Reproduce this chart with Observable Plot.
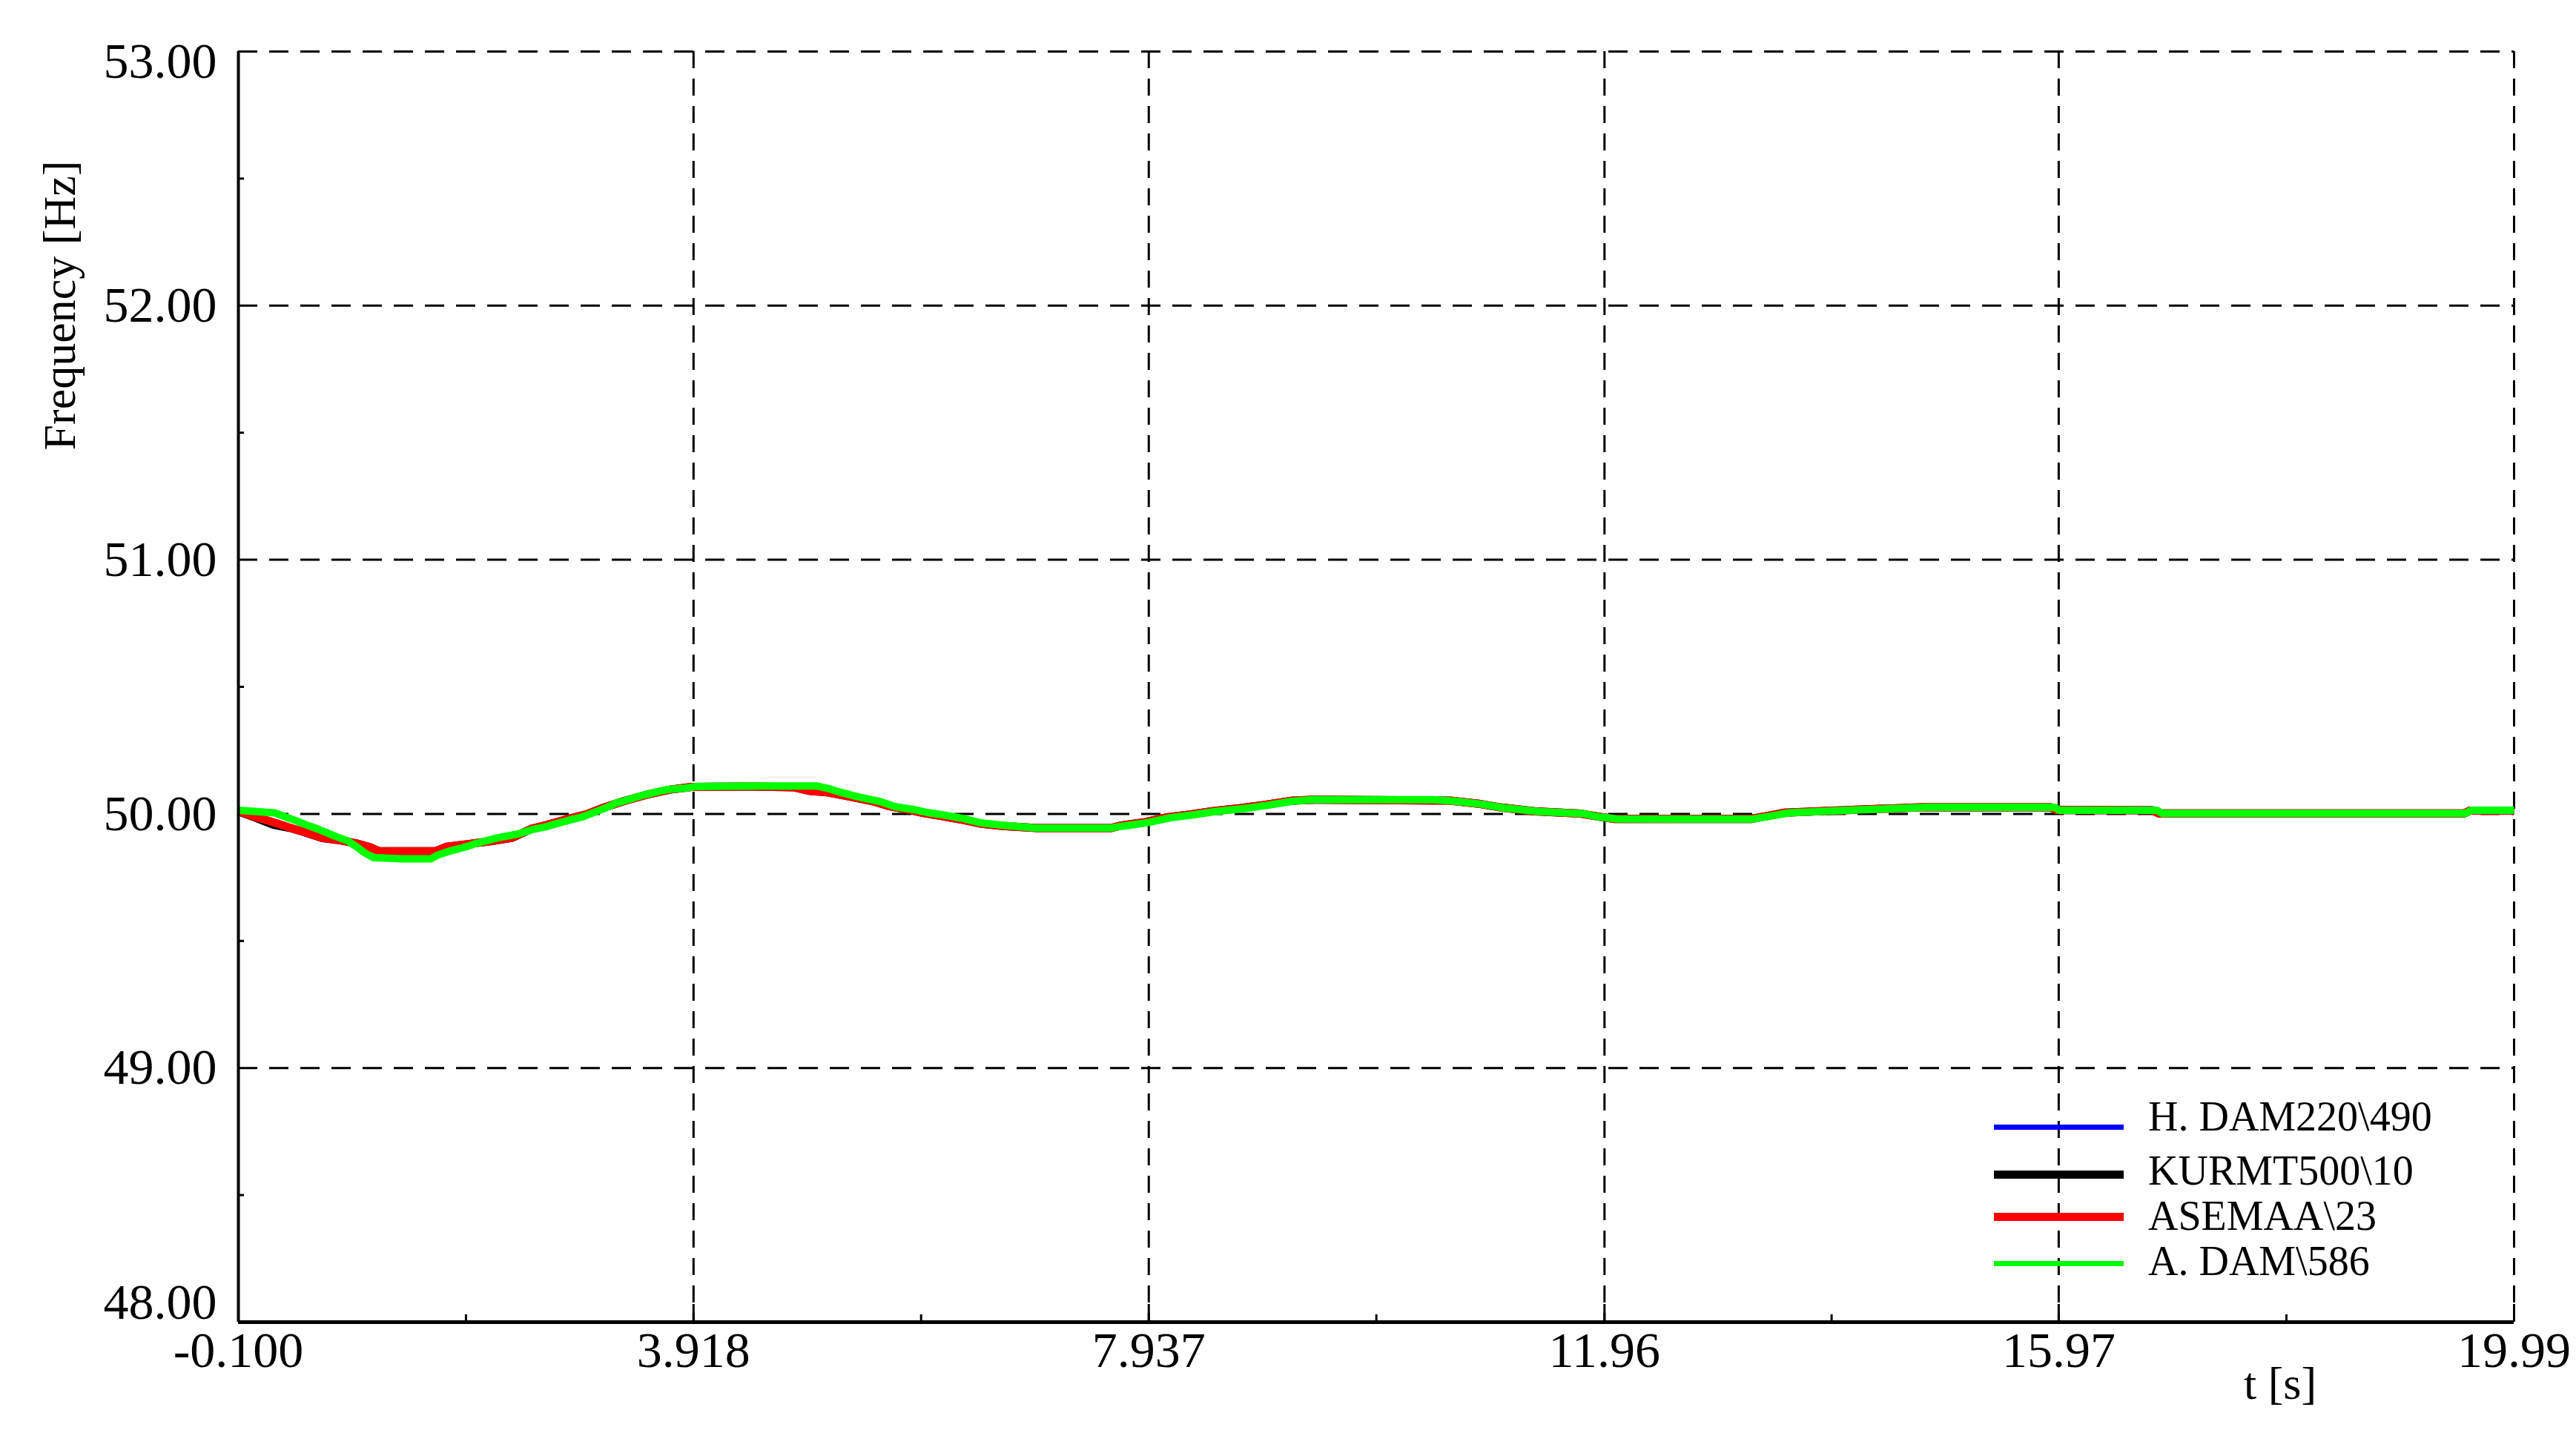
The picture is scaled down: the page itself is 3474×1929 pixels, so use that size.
<!DOCTYPE html>
<html><head><meta charset="utf-8">
<script src="https://cdn.jsdelivr.net/npm/d3@7"></script>
<script src="https://cdn.jsdelivr.net/npm/@observablehq/plot@0.6"></script>
<style>
html,body{margin:0;padding:0;background:#fff;}
#wrap{position:relative;width:3474px;height:1929px;font-family:"Liberation Serif","Times New Roman",serif;}
.lgline{position:absolute;}
.lgtext{position:absolute;font-size:56px;line-height:56px;white-space:pre;color:#000;}
.atitle{position:absolute;white-space:pre;color:#000;line-height:1;}
</style></head><body><div id="wrap"></div>
<script>
// ---- data ----
const xTicks = [-0.1, 3.918, 7.937, 11.96, 15.97, 19.99];
const xTickLabels = ["-0.100", "3.918", "7.937", "11.96", "15.97", "19.99"];
const xMinorTicks = [1.909, 5.927, 9.946, 13.965, 17.98];
const yTicks = [48, 49, 50, 51, 52, 53];
const yTickLabels = ["48.00", "49.00", "50.00", "51.00", "52.00", "53.00"];
const yMinorTicks = [48.5, 49.5, 50.5, 51.5, 52.5];
const seriesNames = ["H. DAM220\\490", "KURMT500\\10", "ASEMAA\\23", "A. DAM\\586"];
const seriesColors = ["#0000ff", "#000000", "#ff0000", "#00ff00"];
const xTitle = "t [s]";
const yTitle = "Frequency [Hz]";

// [time s, frequency Hz]
const hDam = [[-0.1,50.012],[0.04,49.990],[0.14,49.978],[0.24,49.964],[0.36,49.946],[0.49,49.929],[0.64,49.907],[0.81,49.896],[0.94,49.885],[1.06,49.870],[1.14,49.855],[1.40,49.854],[1.64,49.854],[1.74,49.871],[1.94,49.882],[2.14,49.893],[2.32,49.906],[2.49,49.941],[2.62,49.955],[2.79,49.977],[2.97,49.998],[3.12,50.023],[3.30,50.049],[3.50,50.074],[3.70,50.094],[3.90,50.105],[4.40,50.108],[4.80,50.105],[4.95,50.091],[5.10,50.085],[5.30,50.068],[5.50,50.050],[5.65,50.030],[5.80,50.018],[5.95,50.003],[6.10,49.992],[6.30,49.976],[6.45,49.962],[6.65,49.952],[6.95,49.944],[7.60,49.944],[7.70,49.955],[7.90,49.967],[8.10,49.987],[8.30,49.998],[8.50,50.011],[8.75,50.023],[8.95,50.035],[9.20,50.052],[9.40,50.056],[10.60,50.052],[10.85,50.040],[11.05,50.025],[11.35,50.010],[11.75,50.001],[11.90,49.990],[12.05,49.980],[13.25,49.980],[13.40,49.992],[13.55,50.005],[14.10,50.015],[14.75,50.026],[15.90,50.026],[15.95,50.015],[16.80,50.014],[16.85,50.002],[19.55,50.002],[19.60,50.013],[19.99,50.013]];
const kurmt = [[-0.1,50.010],[0.07,49.982],[0.21,49.957],[0.36,49.944],[0.49,49.927],[0.64,49.905],[0.81,49.895],[0.94,49.884],[1.06,49.869],[1.14,49.854],[1.40,49.853],[1.64,49.853],[1.74,49.871],[1.94,49.882],[2.14,49.893],[2.32,49.906],[2.49,49.942],[2.62,49.956],[2.79,49.978],[2.97,49.998],[3.12,50.024],[3.30,50.050],[3.50,50.075],[3.70,50.095],[3.90,50.106],[4.40,50.108],[4.80,50.105],[4.95,50.090],[5.10,50.085],[5.30,50.068],[5.50,50.050],[5.65,50.030],[5.80,50.018],[5.95,50.003],[6.10,49.992],[6.30,49.976],[6.45,49.962],[6.65,49.952],[6.95,49.944],[7.60,49.944],[7.70,49.955],[7.90,49.967],[8.10,49.987],[8.30,49.998],[8.50,50.011],[8.75,50.023],[8.95,50.035],[9.20,50.052],[9.40,50.056],[10.60,50.052],[10.85,50.040],[11.05,50.025],[11.35,50.010],[11.75,50.001],[11.90,49.990],[12.05,49.980],[13.25,49.980],[13.40,49.992],[13.55,50.005],[14.10,50.015],[14.75,50.026],[15.90,50.026],[15.95,50.015],[16.80,50.014],[16.85,50.002],[19.55,50.002],[19.60,50.013],[19.99,50.013]];
const asemaa = [[-0.1,50.012],[0.036,49.989],[0.136,49.977],[0.236,49.963],[0.361,49.945],[0.487,49.928],[0.637,49.906],[0.812,49.895],[0.937,49.884],[1.063,49.869],[1.138,49.854],[1.40,49.853],[1.638,49.853],[1.738,49.871],[1.939,49.882],[2.139,49.893],[2.315,49.906],[2.49,49.942],[2.615,49.956],[2.79,49.978],[2.97,49.998],[3.12,50.024],[3.30,50.050],[3.50,50.075],[3.70,50.095],[3.90,50.106],[4.40,50.108],[4.80,50.105],[4.95,50.090],[5.10,50.085],[5.30,50.068],[5.50,50.050],[5.65,50.030],[5.80,50.018],[5.95,50.003],[6.10,49.992],[6.30,49.976],[6.45,49.962],[6.65,49.952],[6.95,49.944],[7.60,49.944],[7.70,49.955],[7.90,49.967],[8.10,49.987],[8.30,49.998],[8.50,50.011],[8.75,50.023],[8.95,50.035],[9.20,50.052],[9.40,50.056],[10.60,50.052],[10.85,50.040],[11.05,50.025],[11.35,50.010],[11.75,50.001],[11.90,49.990],[12.05,49.980],[13.25,49.980],[13.40,49.992],[13.55,50.005],[14.10,50.015],[14.75,50.026],[15.90,50.026],[15.95,50.015],[16.80,50.014],[16.85,50.002],[19.55,50.002],[19.60,50.013],[19.99,50.013]];
const aDam = [[-0.1,50.014],[0.22,50.004],[0.31,49.989],[0.41,49.973],[0.51,49.955],[0.61,49.939],[0.69,49.924],[0.76,49.911],[0.86,49.895],[0.94,49.872],[1.01,49.848],[1.09,49.828],[1.34,49.823],[1.60,49.823],[1.66,49.838],[1.76,49.853],[1.89,49.868],[2.01,49.885],[2.19,49.906],[2.37,49.921],[2.49,49.938],[2.62,49.950],[2.72,49.963],[2.82,49.975],[2.92,49.986],[3.00,49.999],[3.07,50.011],[3.14,50.023],[3.24,50.043],[3.32,50.053],[3.44,50.070],[3.57,50.084],[3.69,50.096],[3.84,50.101],[3.94,50.108],[4.44,50.110],[5.00,50.110],[5.10,50.101],[5.20,50.087],[5.37,50.067],[5.57,50.048],[5.70,50.028],[5.85,50.018],[6.00,50.004],[6.15,49.994],[6.30,49.982],[6.45,49.965],[6.65,49.955],[6.95,49.944],[7.59,49.944],[7.73,49.953],[7.92,49.965],[8.13,49.985],[8.33,49.996],[8.52,50.009],[8.78,50.021],[8.97,50.033],[9.21,50.050],[9.39,50.056],[10.45,50.056],[10.64,50.050],[10.88,50.038],[11.08,50.023],[11.38,50.009],[11.77,50.001],[11.90,49.989],[12.07,49.980],[13.26,49.979],[13.41,49.990],[13.59,50.004],[14.11,50.014],[14.80,50.026],[15.94,50.026],[15.97,50.014],[16.84,50.014],[16.88,50.002],[19.56,50.002],[19.61,50.014],[19.99,50.014]];
const seriesData = [hDam, kurmt, asemaa, aDam];

// ---- layout / style ----
const W = 3474, H = 1929, mL = 321, mR = 84, mT = 69, mB = 146;
const innerW = W - mL - mR, innerH = H - mT - mB;
const font = "Liberation Serif";
const lineWidths = [8, 11, 11, 10];

const lineMarks = seriesData.map((s, i) =>
  Plot.line(s, {x: d => d[0], y: d => d[1], stroke: seriesColors[i], strokeWidth: lineWidths[i], strokeLinejoin: "miter", strokeLinecap: "butt"})
);

const yMid = yTicks.slice(1, -1), yMidLabels = yTickLabels.slice(1, -1);

const chart = Plot.plot({
  width: W, height: H,
  marginLeft: mL, marginRight: mR, marginTop: mT, marginBottom: mB,
  x: {domain: [-0.1, 19.99], axis: null},
  y: {domain: [48, 53], axis: null},
  style: {fontFamily: font, background: "white", overflow: "visible", color: "#000"},
  marks: [
    Plot.ruleY(yTicks.slice(1), {stroke: "#000", strokeWidth: 3, strokeDasharray: "26,16"}),
    Plot.ruleX(xTicks.slice(1), {stroke: "#000", strokeWidth: 3, strokeDasharray: "23,14"}),
    Plot.ruleX(xMinorTicks, {stroke: "#000", strokeWidth: 3, insetTop: innerH - 10}),
    Plot.ruleX(xTicks.slice(1), {stroke: "#000", strokeWidth: 3, insetTop: innerH - 24}),
    Plot.ruleY(yMinorTicks, {stroke: "#000", strokeWidth: 3, insetRight: innerW - 8}),
    ...lineMarks,
    Plot.ruleX([xTicks[0]], {stroke: "#000", strokeWidth: 4}),
    Plot.ruleY([yTicks[0]], {stroke: "#000", strokeWidth: 5}),
    Plot.text(xTicks, {x: d => d, text: (d, i) => xTickLabels[i], frameAnchor: "bottom", dy: 60, fontSize: 68, fontFamily: font, fill: "#000"}),
    Plot.text(yMid, {y: d => d, text: (d, i) => yMidLabels[i], frameAnchor: "left", textAnchor: "end", dx: -29, fontSize: 68, fontFamily: font, fill: "#000"}),
    Plot.text([yTicks[5]], {y: d => d, text: [yTickLabels[5]], frameAnchor: "left", textAnchor: "end", dx: -29, dy: 14, fontSize: 68, fontFamily: font, fill: "#000"}),
    Plot.text([yTicks[0]], {y: d => d, text: [yTickLabels[0]], frameAnchor: "left", textAnchor: "end", dx: -29, dy: -26, fontSize: 68, fontFamily: font, fill: "#000"})
  ]
});

const wrap = document.getElementById("wrap");
wrap.appendChild(chart);

// ---- axis titles ----
const yt = document.createElement("div");
yt.className = "atitle";
yt.style.fontSize = "62px";
yt.textContent = yTitle;
wrap.appendChild(yt);
const ytw = yt.getBoundingClientRect().width;
yt.style.left = (80 - ytw / 2) + "px";
yt.style.top = (412 - 31) + "px";
yt.style.transformOrigin = "50% 50%";
yt.style.transform = "rotate(-90deg)";

const xt = document.createElement("div");
xt.className = "atitle";
xt.style.fontSize = "62px";
xt.textContent = xTitle;
wrap.appendChild(xt);
const xtw = xt.getBoundingClientRect().width;
xt.style.left = (3075 - xtw / 2) + "px";
xt.style.top = (1866 - 31) + "px";

// ---- legend (inside plot area) ----
const lgLineY = [1520, 1584, 1641, 1704];
const lgLineH = [7, 11, 11, 7];
const lgTextY = [1506, 1579, 1640, 1701];
seriesNames.forEach((name, i) => {
  const ln = document.createElement("div");
  ln.className = "lgline";
  ln.style.left = "2689px";
  ln.style.width = "175px";
  ln.style.top = (lgLineY[i] - lgLineH[i] / 2) + "px";
  ln.style.height = lgLineH[i] + "px";
  ln.style.background = seriesColors[i];
  wrap.appendChild(ln);
  const tx = document.createElement("div");
  tx.className = "lgtext";
  tx.style.left = "2897px";
  tx.style.top = (lgTextY[i] - 28) + "px";
  tx.textContent = name;
  wrap.appendChild(tx);
});
</script></body></html>
